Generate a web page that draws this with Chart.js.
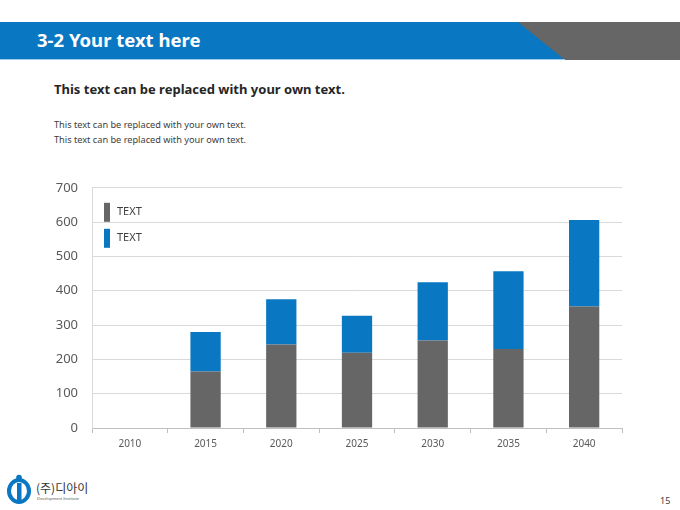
<!DOCTYPE html>
<html>
<head>
<meta charset="utf-8">
<script src="https://cdn.jsdelivr.net/npm/chart.js@4"></script>
<style>
  html, body { margin: 0; padding: 0; }
  body { width: 680px; height: 510px; position: relative; background: #fff; overflow: hidden;
         font-family: "Noto Sans", "Noto Sans CJK KR", sans-serif; }
  .header { position: absolute; left: 0; top: 22px; width: 680px; height: 38px; }
  .title { position: absolute; left: 37px; top: 27px; color: #fff; font-size: 18.5px; font-weight: bold; line-height: 26px; }
  .lead { position: absolute; left: 54px; top: 80px; font-size: 13px; font-weight: bold; color: #262626; }
  .small { position: absolute; left: 54px; font-size: 9.2px; color: #404040; }
  .chart-box { position: absolute; left: 40px; top: 166px; width: 600px; height: 289px; }
  .logo-text { position: absolute; left: 36px; top: 479px; font-family: "Noto Sans CJK KR", sans-serif; font-size: 12px; color: #333; }
  .logo-sub { position: absolute; left: 37px; top: 496px; font-size: 4px; color: #555; }
  .page { position: absolute; left: 660px; top: 494px; font-size: 9px; color: #404040; }
</style>
</head>
<body>
<svg class="header" width="680" height="38">
  <polygon points="0,0 565,0 565,38 0,38" fill="#0A77C2"/>
  <polygon points="518,0 680,0 680,38 565,38" fill="#666666"/>
  <line x1="0" y1="37.5" x2="565" y2="37.5" stroke="#9cc9ea" stroke-width="1"/>
</svg>
<div class="title">3-2 Your text here</div>
<div class="lead">This text can be replaced with your own text.</div>
<div class="small" style="top:118px">This text can be replaced with your own text.</div>
<div class="small" style="top:133px">This text can be replaced with your own text.</div>

<div class="chart-box"><canvas id="chart" width="600" height="289"></canvas></div>

<svg style="position:absolute;left:6px;top:474px" width="28" height="30">
  <ellipse cx="13" cy="17" rx="10" ry="11" fill="none" stroke="#0A77C2" stroke-width="4"/>
  <rect x="11" y="9" width="4.5" height="20" fill="#0A77C2"/>
  <circle cx="13" cy="3.5" r="2.8" fill="#0A77C2"/>
</svg>
<div class="logo-text">(주)디아이</div>
<div class="logo-sub">Development Institute</div>
<div class="page">15</div>

<script>
const years = ['2010', '2015', '2020', '2025', '2030', '2035', '2040'];
const grayValues = [null, 165, 243, 219, 255, 230, 354];
const blueValues = [null, 115, 132, 108, 170, 227, 252];
const seriesNames = ['TEXT', 'TEXT'];
const yTicks = [0, 100, 200, 300, 400, 500, 600, 700];

const GRAY = '#666666';
const BLUE = '#0A77C2';

// legend drawn inside the plot, tall thin swatches like the slide
const insideLegend = {
  id: 'insideLegend',
  afterDraw(chart) {
    const ctx = chart.ctx;
    const area = chart.chartArea;
    ctx.save();
    chart.data.datasets.forEach((ds, i) => {
      const top = area.top + 15 + i * 26;
      ctx.fillStyle = ds.backgroundColor;
      ctx.fillRect(area.left + 12, top, 6, 19);
      ctx.fillStyle = '#404040';
      ctx.font = '11px "Noto Sans", sans-serif';
      ctx.textBaseline = 'middle';
      ctx.fillText(ds.label, area.left + 25, top + 9.5);
    });
    ctx.restore();
  }
};

new Chart(document.getElementById('chart'), {
  type: 'bar',
  data: {
    labels: years,
    datasets: [
      { label: seriesNames[0], data: grayValues, backgroundColor: GRAY },
      { label: seriesNames[1], data: blueValues, backgroundColor: BLUE }
    ]
  },
  options: {
    responsive: false,
    animation: false,
    barPercentage: 0.4,
    categoryPercentage: 1,
    layout: { padding: { top: 3, right: 18, left: 0, bottom: 0 } },
    plugins: { legend: { display: false }, tooltip: { enabled: false } },
    scales: {
      x: {
        stacked: true,
        grid: { drawOnChartArea: false, drawTicks: true, tickLength: 5, color: '#bfbfbf' },
        border: { display: true, color: '#bfbfbf' },
        ticks: { color: '#595959', font: { size: 10, family: '"Noto Sans", sans-serif' }, padding: 5 },
        afterFit: (s) => { s.height = 27; }
      },
      y: {
        stacked: true,
        min: 0,
        max: 700,
        afterBuildTicks: (s) => { s.ticks = yTicks.map(v => ({ value: v })); },
        grid: { color: '#d9d9d9', drawTicks: false },
        border: { display: true, color: '#d9d9d9' },
        ticks: { color: '#595959', font: { size: 13, family: '"Noto Sans", sans-serif' }, padding: 14 },
        afterFit: (s) => { s.width = 52; }
      }
    }
  },
  plugins: [insideLegend]
});
</script>
</body>
</html>
